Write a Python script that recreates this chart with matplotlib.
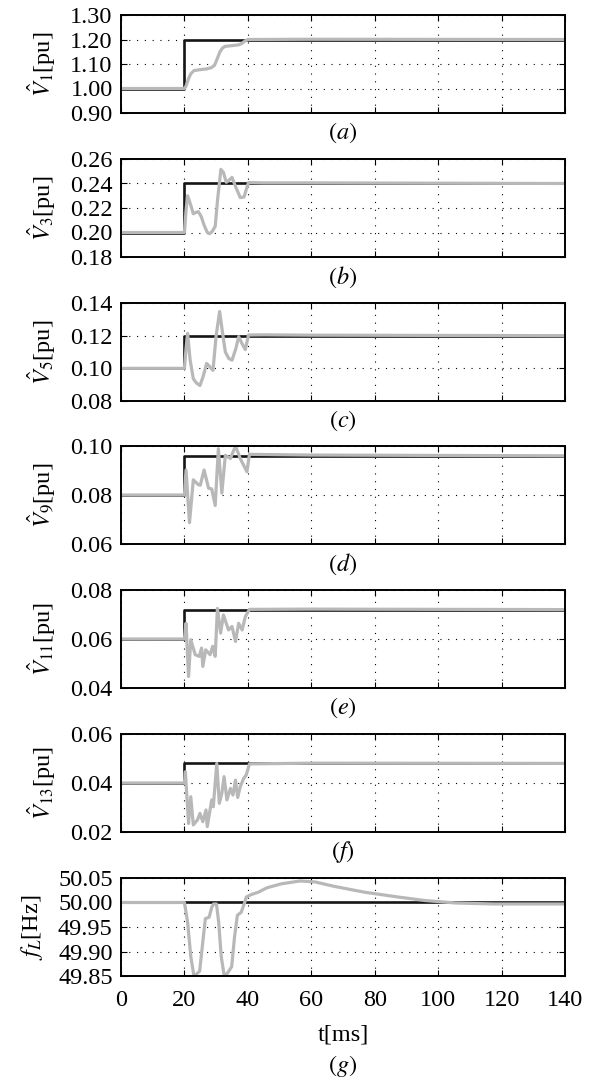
import numpy as np
import matplotlib
matplotlib.use("Agg")
import matplotlib.pyplot as plt

plt.rcParams['font.family'] = ['Liberation Serif', 'DejaVu Serif']
plt.rcParams['mathtext.fontset'] = 'stix'

# reference steps (black)
t_ref = [0, 20, 20, 140]
ref_base = [1.00, 0.20, 0.10, 0.08, 0.06, 0.04]
ref_step = [1.20, 0.24, 0.12, 0.096, 0.072, 0.048]

t_a = [0, 20, 20.5, 21.3, 22, 23, 25, 27, 28.5, 29.5, 30.3, 31.2, 32, 32.8, 35, 37, 38, 39, 40, 60, 140]
v_a = [1.0, 1.0, 1.01, 1.04, 1.06, 1.073, 1.077, 1.08, 1.085, 1.095, 1.12, 1.15, 1.165, 1.172, 1.175, 1.178, 1.183, 1.193, 1.2, 1.201, 1.2]

t_b = [0, 20, 20.5, 21, 21.8, 22.8, 23.7, 24.4, 25.3, 26.2, 27.2, 27.9, 28.8, 29.7, 30.5, 31.5, 32.3, 33.2, 34.2, 35, 36.2, 37.6, 38.8, 39.6, 40.2, 45, 60, 140]
v_b = [0.20, 0.20, 0.218, 0.230, 0.224, 0.2153, 0.2165, 0.217, 0.213, 0.206, 0.200, 0.199, 0.201, 0.205, 0.228, 0.2515, 0.249, 0.241, 0.243, 0.245, 0.237, 0.2285, 0.2290, 0.236, 0.2408, 0.2405, 0.2405, 0.240]

t_c = [0, 20, 20.5, 21, 21.8, 22.8, 23.8, 24.9, 25.9, 27.0, 28.0, 29.0, 30.0, 31.1, 32.0, 32.9, 34.0, 35, 36.2, 37.1, 38.2, 39.2, 40.2, 45, 60, 140]
v_c = [0.10, 0.10, 0.112, 0.1214, 0.105, 0.0936, 0.091, 0.0895, 0.095, 0.103, 0.101, 0.0988, 0.120, 0.1348, 0.122, 0.110, 0.106, 0.105, 0.112, 0.1194, 0.115, 0.1115, 0.1204, 0.1205, 0.1203, 0.120]

t_d = [0, 20, 20.5, 21.6, 22.8, 24.4, 25.0, 26.2, 27.6, 28.6, 29.7, 30.7, 31.8, 32.9, 34.5, 36.1, 37.6, 39.7, 40.5, 60, 140]
v_d = [0.08, 0.08, 0.0902, 0.0687, 0.0862, 0.0842, 0.0840, 0.0902, 0.0828, 0.0825, 0.0757, 0.0989, 0.0808, 0.0962, 0.0949, 0.100, 0.0949, 0.0895, 0.0966, 0.0963, 0.096]

t_e = [0, 20, 20.5, 21.3, 22.0, 23.4, 24.7, 25.4, 25.8, 26.7, 28.1, 28.9, 29.7, 30.4, 31.4, 32.3, 33.9, 35.0, 36.1, 37.1, 38.2, 39.2, 40.5, 60, 140]
v_e = [0.06, 0.06, 0.0664, 0.0447, 0.0597, 0.0536, 0.0529, 0.0563, 0.0488, 0.0556, 0.0536, 0.057, 0.0529, 0.0725, 0.0624, 0.0698, 0.0637, 0.0651, 0.059, 0.0664, 0.0637, 0.0691, 0.0721, 0.0722, 0.072]

t_f = [0, 20, 20.3, 21.3, 22.0, 22.8, 24.1, 24.9, 25.8, 26.8, 27.2, 28.6, 29.1, 30.2, 31.0, 31.8, 32.5, 33.4, 34.5, 35.3, 36.1, 36.8, 37.6, 38.7, 39.5, 40.5, 60, 140]
v_f = [0.04, 0.04, 0.0446, 0.0235, 0.0344, 0.0229, 0.0249, 0.0276, 0.0242, 0.029, 0.0222, 0.0331, 0.0303, 0.048, 0.0317, 0.0358, 0.0426, 0.0331, 0.0378, 0.0351, 0.0412, 0.0341, 0.0385, 0.0419, 0.0433, 0.0478, 0.0481, 0.048]

t_g = [0, 20, 21, 22, 23, 24, 24.8, 25.8, 26.6, 27.8, 28.6, 29.2, 30.1, 30.8, 31.6, 32.5, 33.5, 34.9, 35.8, 36.7, 37.9, 39.0, 39.5, 41, 43.3, 46, 50.5, 56.5, 61.2, 67.2, 76.8, 87.6, 95.9, 105.5, 117.5, 140]
v_g = [50.0, 50.0, 49.96, 49.89, 49.85, 49.855, 49.86, 49.92, 49.967, 49.97, 49.99, 49.997, 49.997, 49.96, 49.89, 49.852, 49.855, 49.869, 49.93, 49.974, 49.98, 50.0, 50.011, 50.016, 50.021, 50.03, 50.038, 50.044, 50.042, 50.033, 50.021, 50.011, 50.004, 49.999, 49.997, 49.997]

gray_t = [t_a, t_b, t_c, t_d, t_e, t_f]
gray_v = [v_a, v_b, v_c, v_d, v_e, v_f]

ylabels = [r'$\hat{V}_1$[pu]', r'$\hat{V}_3$[pu]', r'$\hat{V}_5$[pu]', r'$\hat{V}_9$[pu]',
           r'$\hat{V}_{11}$[pu]', r'$\hat{V}_{13}$[pu]', r'$f_L$[Hz]']
letters = ['a', 'b', 'c', 'd', 'e', 'f', 'g']
yticks = [[0.90, 1.00, 1.10, 1.20, 1.30],
          [0.18, 0.20, 0.22, 0.24, 0.26],
          [0.08, 0.10, 0.12, 0.14],
          [0.06, 0.08, 0.10],
          [0.04, 0.06, 0.08],
          [0.02, 0.04, 0.06],
          [49.85, 49.90, 49.95, 50.00, 50.05]]
xticks = [0, 20, 40, 60, 80, 100, 120, 140]

fig = plt.figure(figsize=(5.97, 10.8), dpi=100)
left, width, height = 121 / 597, 444 / 597, 98 / 1080
tops = [15, 159, 303, 446, 590, 734, 878]

black = '#151515'
gray = '#b8b8b8'
fs = 17.5

for i in range(7):
    ax = fig.add_axes([left, 1 - (tops[i] + 98) / 1080, width, height])
    if i < 6:
        ax.plot(t_ref, [ref_base[i], ref_base[i], ref_step[i], ref_step[i]], color=black, lw=1.9)
        ax.plot(gray_t[i], gray_v[i], color=gray, lw=2.3, solid_joinstyle='round')
    else:
        ax.plot([0, 140], [50.0, 50.0], color=black, lw=1.9)
        ax.plot(t_g, v_g, color=gray, lw=2.3, solid_joinstyle='round')
    ax.set_xlim(0, 140)
    ax.set_ylim(yticks[i][0], yticks[i][-1])
    ax.set_yticks(yticks[i])
    ax.set_yticklabels(['%.2f' % v for v in yticks[i]])
    ax.set_xticks(xticks)
    ax.grid(True, color='black', linestyle=(0, (1, 6)), lw=0.8)
    ax.tick_params(direction='in', top=True, right=True, labelsize=fs, length=4, width=0.8)
    ax.tick_params(axis='y', pad=6)
    ax.tick_params(axis='x', pad=10)
    for s in ax.spines.values():
        s.set_linewidth(1.4)
    ax.set_ylabel(ylabels[i], fontsize=fs, labelpad=9)
    if i < 6:
        ax.set_xticklabels([])
        ax.text(0.5, -0.205, '$(%s)$' % letters[i], transform=ax.transAxes,
                ha='center', va='center', fontsize=fs)
    else:
        ax.set_xticklabels([str(x) for x in xticks])
        ax.set_xlabel('t[ms]', fontsize=fs, labelpad=10)
        ax.text(0.5, -0.92, '$(%s)$' % letters[i], transform=ax.transAxes,
                ha='center', va='center', fontsize=fs)

fig.savefig('out.png', dpi=100)
